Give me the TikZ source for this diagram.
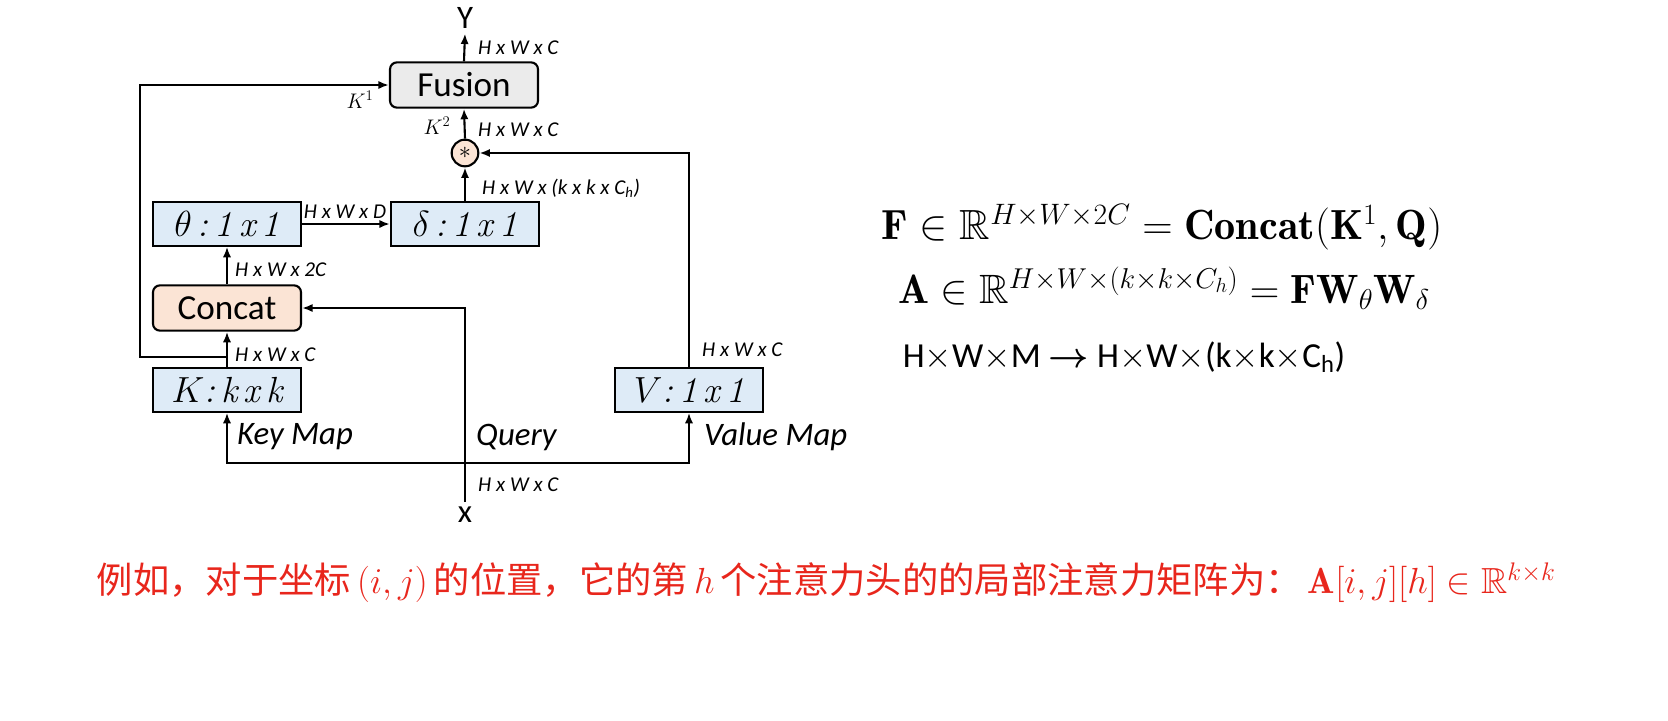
\documentclass[tikz,border=0pt]{standalone}
\usepackage{fix-cm}
\usepackage{amsmath,amssymb}
\usepackage{fontspec}
\setsansfont{Carlito}
\newfontfamily\cjk{Noto Sans CJK SC}
\usetikzlibrary{arrows.meta}
\definecolor{boxBlue}{RGB}{222, 235, 247}
\definecolor{boxPeach}{RGB}{251, 228, 213}
\definecolor{boxGray}{RGB}{235, 235, 235}
\definecolor{noteRed}{RGB}{232, 38, 28}

\begin{document}
\begin{tikzpicture}[x=0.03cm, y=-0.03cm, line width=1.8pt, >={Latex[length=9pt,width=7pt]},
    opbox/.style={draw, fill=boxBlue, minimum width=4.44cm, minimum height=1.3cm, inner sep=0pt, font=\fontsize{31}{32}\selectfont\itshape},
    roundbox/.style={draw, rounded corners=6pt, minimum width=4.44cm, minimum height=1.36cm, inner sep=0pt, font=\sffamily\fontsize{30}{32}\selectfont},
    dimlabel/.style={font=\sffamily\itshape\fontsize{18}{20}\selectfont, inner sep=1pt},
    maplabel/.style={font=\sffamily\itshape\fontsize{28}{30}\selectfont, inner sep=1pt}]
            % boxes
            \node[roundbox, fill=boxGray] (fusion) at (464,85) {Fusion};
            \node[draw, circle, fill=boxPeach, minimum size=0.8cm, inner sep=0pt, font=\huge] (prod) at (465,153) {$\ast$};
            \node[opbox] (theta) at (227,224) {$\theta$\,:\,1\,x\,1};
            \node[opbox] (delta) at (465,224) {$\delta$\,:\,1\,x\,1};
            \node[roundbox, fill=boxPeach] (concat) at (227,308) {Concat};
            \node[opbox] (key) at (227,390) {$K$:\,k\,x\,k};
            \node[opbox] (value) at (689,390) {$V$:\,1\,x\,1};

            \node[font=\sffamily\fontsize{28}{30}\selectfont] (outY) at (465,18) {Y};
            \node[font=\sffamily\fontsize{28}{30}\selectfont] (inX) at (465,515) {x};
            \coordinate (split) at (465,463);
            \coordinate (skip) at (227,357);

            % connectors
            \draw[->] (fusion.north) -- (outY.south);
            \draw[->] (prod.north) -- (fusion.south);
            \draw[->] (delta.north) -- (prod.south);
            \draw[->] (theta.east) -- (delta.west);
            \draw[->] (concat.north) -- (theta.south);
            \draw[->] (key.north) -- (concat.south);
            \draw[->] (skip) -- (140,357) |- (fusion.west);
            \draw[->] (value.north) |- (prod.east);
            \draw[->] (inX.north) |- (concat.east);
            \draw[->] (split) -| (key.south);
            \draw[->] (split) -| (value.south);

            % labels
            \node[dimlabel, anchor=west] at (476,48) {H x W x C};
            \node[dimlabel, anchor=west] at (476,130) {H x W x C};
            \node[dimlabel] at (437,126) {$K^2$};
            \node[dimlabel] at (360,100) {$K^1$};
            \node[dimlabel, anchor=west] at (480,188) {H x W x (k x k x C\textsubscript{h})};
            \node[dimlabel] at (345,212) {H x W x D};
            \node[dimlabel, anchor=west] at (233,270) {H x W x 2C};
            \node[dimlabel, anchor=west] at (233,355) {H x W x C};
            \node[dimlabel, anchor=west] at (700,350) {H x W x C};
            \node[dimlabel, anchor=west] at (476,485) {H x W x C};
            \node[maplabel, anchor=west] at (235,437) {Key Map};
            \node[maplabel, anchor=west] at (474,437) {Query};
            \node[maplabel, anchor=west] at (702,437) {Value Map};

            % equations
            \node[font=\fontsize{36}{40}\selectfont] at (1162,227) {$\mathbf{F}\in\mathbb{R}^{H\times W\times 2C}=\mathbf{Concat}(\mathbf{K}^1,\mathbf{Q})$};
            \node[font=\fontsize{35}{40}\selectfont] at (1164,288) {$\mathbf{A}\in\mathbb{R}^{H\times W\times(k\times k\times C_h)}=\mathbf{F}\mathbf{W}_{\theta}\mathbf{W}_{\delta}$};
            \node[font=\sffamily\fontsize{30}{34}\selectfont, anchor=west] at (898,357) {H$\times$W$\times$M $\boldsymbol{\rightarrow}$ H$\times$W$\times$(k$\times$k$\times$C\textsubscript{h})};
            \node[text=noteRed, font=\fontsize{31}{34}\selectfont, anchor=west] at (92,583) {{\cjk 例如，对于坐标}\,$(i,j)$\,{\cjk 的位置，它的第}\,$h$\,{\cjk 个注意力头的的局部注意力矩阵为：}\,$\mathbf{A}[i,j][h]\in\mathbb{R}^{k\times k}$};

            \pgfresetboundingbox
            \useasboundingbox (0,0) rectangle (1668,720);
        \end{tikzpicture}
\end{document}
